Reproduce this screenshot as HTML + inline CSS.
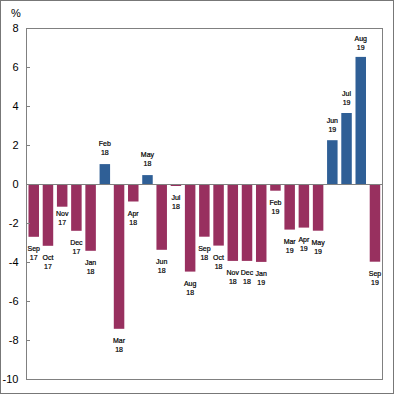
<!DOCTYPE html>
<html><head><meta charset="utf-8"><style>
html,body{margin:0;padding:0;background:#fff;}
svg{display:block;}
text{font-family:"Liberation Sans",sans-serif;} .lab text{stroke:#000;stroke-width:0.2px;}
</style></head><body>
<svg width="394" height="394" viewBox="0 0 394 394">
<rect x="0" y="0" width="394" height="394" fill="#fff"/>
<rect x="0.5" y="0.5" width="393" height="393" fill="none" stroke="#777" stroke-width="1"/>
<rect x="28.49" y="184.50" width="10.5" height="52.30" fill="#98305F"/><rect x="42.71" y="184.50" width="10.5" height="61.30" fill="#98305F"/><rect x="56.93" y="184.50" width="10.5" height="22.20" fill="#98305F"/><rect x="71.14" y="184.50" width="10.5" height="46.30" fill="#98305F"/><rect x="85.36" y="184.50" width="10.5" height="66.30" fill="#98305F"/><rect x="99.58" y="164.10" width="10.5" height="20.40" fill="#2F5F96"/><rect x="113.80" y="184.50" width="10.5" height="144.30" fill="#98305F"/><rect x="128.02" y="184.50" width="10.5" height="17.00" fill="#98305F"/><rect x="142.23" y="175.10" width="10.5" height="9.40" fill="#2F5F96"/><rect x="156.45" y="184.50" width="10.5" height="65.30" fill="#98305F"/><rect x="170.67" y="184.50" width="10.5" height="1.50" fill="#98305F"/><rect x="184.89" y="184.50" width="10.5" height="87.10" fill="#98305F"/><rect x="199.11" y="184.50" width="10.5" height="52.20" fill="#98305F"/><rect x="213.32" y="184.50" width="10.5" height="61.10" fill="#98305F"/><rect x="227.54" y="184.50" width="10.5" height="76.40" fill="#98305F"/><rect x="241.76" y="184.50" width="10.5" height="76.40" fill="#98305F"/><rect x="255.98" y="184.50" width="10.5" height="77.40" fill="#98305F"/><rect x="270.20" y="184.50" width="10.5" height="6.20" fill="#98305F"/><rect x="284.41" y="184.50" width="10.5" height="45.10" fill="#98305F"/><rect x="298.63" y="184.50" width="10.5" height="43.10" fill="#98305F"/><rect x="312.85" y="184.50" width="10.5" height="46.20" fill="#98305F"/><rect x="327.07" y="140.20" width="10.5" height="44.30" fill="#2F5F96"/><rect x="341.29" y="113.00" width="10.5" height="71.50" fill="#2F5F96"/><rect x="355.50" y="56.90" width="10.5" height="127.60" fill="#2F5F96"/><rect x="369.72" y="184.50" width="10.5" height="77.20" fill="#98305F"/>
<rect x="26.5" y="28.5" width="356" height="351" fill="none" stroke="#808080" stroke-width="1"/>
<rect x="27" y="184" width="355" height="1" fill="#808080"/>
<rect x="27" y="67" width="3" height="1" fill="#808080"/><rect x="27" y="106" width="3" height="1" fill="#808080"/><rect x="27" y="145" width="3" height="1" fill="#808080"/><rect x="27" y="184" width="3" height="1" fill="#808080"/><rect x="27" y="223" width="3" height="1" fill="#808080"/><rect x="27" y="262" width="3" height="1" fill="#808080"/><rect x="27" y="301" width="3" height="1" fill="#808080"/><rect x="27" y="340" width="3" height="1" fill="#808080"/>
<g class="lab" font-size="7" text-anchor="middle" fill="#000"><text x="33.74" y="251.00">Sep</text><text x="33.74" y="260.00">17</text><text x="47.96" y="260.00">Oct</text><text x="47.96" y="269.00">17</text><text x="62.18" y="216.00">Nov</text><text x="62.18" y="225.00">17</text><text x="76.39" y="245.00">Dec</text><text x="76.39" y="254.00">17</text><text x="90.61" y="265.00">Jan</text><text x="90.61" y="274.00">18</text><text x="104.83" y="146.00">Feb</text><text x="104.83" y="155.00">18</text><text x="119.05" y="343.00">Mar</text><text x="119.05" y="352.00">18</text><text x="133.27" y="216.00">Apr</text><text x="133.27" y="225.00">18</text><text x="147.48" y="157.00">May</text><text x="147.48" y="166.00">18</text><text x="161.70" y="264.00">Jun</text><text x="161.70" y="273.00">18</text><text x="175.92" y="200.00">Jul</text><text x="175.92" y="209.00">18</text><text x="190.14" y="286.00">Aug</text><text x="190.14" y="295.00">18</text><text x="204.36" y="251.00">Sep</text><text x="204.36" y="260.00">18</text><text x="218.57" y="260.00">Oct</text><text x="218.57" y="269.00">18</text><text x="232.79" y="275.00">Nov</text><text x="232.79" y="284.00">18</text><text x="247.01" y="275.00">Dec</text><text x="247.01" y="284.00">18</text><text x="261.23" y="276.00">Jan</text><text x="261.23" y="285.00">19</text><text x="275.45" y="205.00">Feb</text><text x="275.45" y="214.00">19</text><text x="289.66" y="244.00">Mar</text><text x="289.66" y="253.00">19</text><text x="303.88" y="242.00">Apr</text><text x="303.88" y="251.00">19</text><text x="318.10" y="245.00">May</text><text x="318.10" y="254.00">19</text><text x="332.32" y="123.00">Jun</text><text x="332.32" y="132.00">19</text><text x="346.54" y="96.00">Jul</text><text x="346.54" y="105.00">19</text><text x="360.75" y="41.00">Aug</text><text x="360.75" y="50.00">19</text><text x="374.97" y="276.00">Sep</text><text x="374.97" y="285.00">19</text></g>
<g class="ax" font-size="11" text-anchor="end" fill="#000"><text x="18.5" y="32">8</text><text x="18.5" y="71">6</text><text x="18.5" y="110">4</text><text x="18.5" y="149">2</text><text x="18.5" y="188">0</text><text x="18.5" y="227">-2</text><text x="18.5" y="266">-4</text><text x="18.5" y="305">-6</text><text x="18.5" y="344">-8</text><text x="18.5" y="383">-10</text></g>
<text x="11" y="17" font-size="11" fill="#000">%</text>
</svg>
</body></html>
